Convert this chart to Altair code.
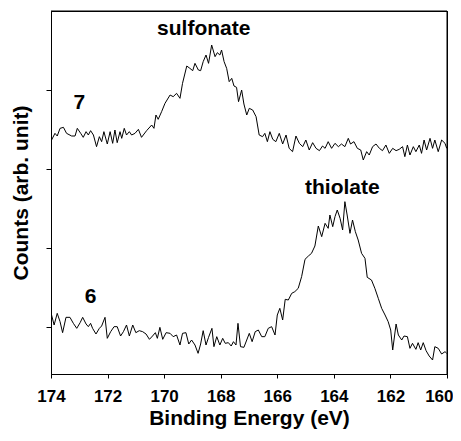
import altair as alt
import pandas as pd

# Spectrum 7 (sulfonate), binding energy (eV) and counts (arb. unit)
e7 = [173.98, 173.86, 173.78, 173.68, 173.56, 173.45, 173.27, 173.15, 173.07, 172.95,
      172.86, 172.76, 172.68, 172.60, 172.50, 172.39, 172.29, 172.21, 172.13, 172.01,
      171.91, 171.82, 171.74, 171.66, 171.56, 171.50, 171.41, 171.33, 171.23, 171.15,
      171.03, 170.91, 170.80, 170.62, 170.44, 170.36, 170.29, 170.21, 170.09, 169.97,
      169.79, 169.68, 169.56, 169.44, 169.35, 169.20, 169.09, 168.99, 168.91, 168.79,
      168.71, 168.62, 168.52, 168.43, 168.32, 168.20, 168.12, 168.03, 167.97, 167.88,
      167.79, 167.70, 167.61, 167.53, 167.44, 167.37, 167.26, 167.18, 167.08, 166.99,
      166.87, 166.75, 166.64, 166.52, 166.44, 166.35, 166.26, 166.16, 166.05, 165.93,
      165.81, 165.69, 165.58, 165.46, 165.34, 165.22, 165.10, 164.99, 164.87, 164.75,
      164.63, 164.51, 164.40, 164.31, 164.20, 164.08, 163.96, 163.84, 163.73, 163.61,
      163.49, 163.41, 163.29, 163.17, 163.05, 162.96, 162.84, 162.75, 162.63, 162.51,
      162.39, 162.28, 162.16, 162.04, 161.92, 161.80, 161.69, 161.57, 161.49, 161.40,
      161.31, 161.19, 161.10, 160.98, 160.90, 160.81, 160.72, 160.60, 160.51, 160.43,
      160.31, 160.19, 160.07, 160.01]
c7 = [702, 722, 714, 737, 740, 722, 714, 714, 737, 722,
      710, 727, 717, 730, 717, 682, 712, 697, 727, 690,
      727, 692, 732, 694, 727, 707, 737, 717, 727, 717,
      722, 734, 710, 730, 747, 737, 777, 764, 787, 812,
      837, 832, 842, 827, 872, 924, 917, 910, 932, 912,
      910, 937, 957, 932, 987, 952, 964, 957, 972, 937,
      917, 877, 887, 864, 860, 817, 852, 810, 777, 797,
      792, 772, 717, 712, 722, 697, 727, 704, 697, 722,
      690, 717, 677, 667, 714, 692, 682, 702, 672, 694,
      677, 670, 684, 677, 697, 677, 692, 682, 690, 682,
      707, 690, 697, 677, 672, 642, 667, 657, 682, 690,
      677, 670, 687, 662, 677, 670, 674, 682, 652, 687,
      657, 682, 667, 687, 662, 702, 672, 707, 677, 702,
      667, 702, 692, 677]

# Spectrum 6 (thiolate)
e6 = [173.98, 173.89, 173.78, 173.68, 173.59, 173.47, 173.33, 173.21, 173.09, 172.97,
      172.88, 172.76, 172.68, 172.60, 172.53, 172.41, 172.29, 172.21, 172.09, 172.01,
      171.89, 171.77, 171.66, 171.54, 171.44, 171.33, 171.23, 171.11, 171.00, 170.88,
      170.76, 170.64, 170.52, 170.41, 170.31, 170.24, 170.15, 170.05, 169.93, 169.79,
      169.68, 169.56, 169.44, 169.35, 169.23, 169.13, 169.03, 168.91, 168.80, 168.71,
      168.62, 168.52, 168.43, 168.31, 168.24, 168.14, 168.03, 167.93, 167.84, 167.73,
      167.63, 167.55, 167.46, 167.39, 167.30, 167.18, 167.08, 166.99, 166.89, 166.78,
      166.67, 166.55, 166.44, 166.32, 166.20, 166.08, 166.00, 165.91, 165.81, 165.72,
      165.61, 165.49, 165.38, 165.26, 165.14, 165.02, 164.90, 164.79, 164.67, 164.55,
      164.43, 164.31, 164.20, 164.14, 164.04, 163.96, 163.88, 163.78, 163.69, 163.61,
      163.53, 163.43, 163.34, 163.24, 163.14, 163.02, 162.90, 162.82, 162.67, 162.55,
      162.43, 162.31, 162.19, 162.08, 161.99, 161.92, 161.80, 161.72, 161.60, 161.52,
      161.40, 161.31, 161.22, 161.10, 161.02, 160.93, 160.84, 160.74, 160.63, 160.51,
      160.43, 160.31, 160.19, 160.07, 160.01]
c6 = [177, 147, 182, 157, 124, 170, 170, 152, 137, 154,
      170, 150, 142, 152, 137, 120, 137, 144, 170, 107,
      127, 142, 142, 114, 127, 147, 114, 147, 124, 130,
      127, 120, 104, 114, 124, 107, 140, 104, 124, 122,
      112, 117, 87, 122, 124, 90, 102, 87, 62, 90,
      130, 87, 110, 137, 82, 112, 87, 107, 92, 94,
      84, 97, 87, 152, 82, 80, 102, 122, 97, 127,
      132, 112, 112, 137, 142, 117, 177, 197, 162, 224,
      222, 242, 247, 257, 292, 344, 354, 362, 384, 444,
      412, 452, 437, 477, 442, 472, 492, 467, 432, 517,
      477, 422, 462, 427, 402, 362, 347, 290, 282, 257,
      227, 197, 177, 157, 132, 72, 150, 117, 102, 114,
      112, 77, 92, 74, 94, 72, 94, 70, 54, 42,
      82, 77, 60, 67, 62]

label_text = ["sulfonate", "7", "thiolate", "6"]
label_e = [168.6, 173.0, 163.7, 172.6]
label_c = [1035, 813, 558, 232]

x_ticks = [174, 172, 170, 168, 166, 164, 162, 160]
y_ticks = [141, 378, 615, 852]

X_MIN, X_MAX = 160, 174
Y_MIN, Y_MAX = 0, 1089

n7 = min(len(e7), len(c7))
n6 = min(len(e6), len(c6))
spec = pd.DataFrame({
    "energy": e7[:n7] + e6[:n6],
    "counts": c7[:n7] + c6[:n6],
    "series": ["7"] * n7 + ["6"] * n6,
})
labels = pd.DataFrame({"energy": label_e, "counts": label_c, "text": label_text})
frame = pd.DataFrame({"e0": [X_MAX, X_MIN], "e1": [X_MIN, X_MIN],
                      "c0": [Y_MAX, Y_MIN], "c1": [Y_MAX, Y_MAX]})

FONT = "Liberation Sans"

x_scale = alt.Scale(domain=[X_MIN, X_MAX], reverse=True, nice=False, zero=False)
y_scale = alt.Scale(domain=[Y_MIN, Y_MAX], nice=False, zero=True)

lines = alt.Chart(spec).mark_line(color="black", strokeWidth=1).encode(
    x=alt.X("energy:Q", scale=x_scale,
            axis=alt.Axis(title="Binding Energy (eV)", values=x_ticks, format="d",
                          grid=False, tickSize=4, labelPadding=10, labelFlush=False,
                          labelAlign={"expr": f"datum.value == {X_MIN} ? 'right' : 'center'"},
                          labelOffset={"expr": f"datum.value == {X_MIN} ? 6 : 0"},
                          labelFontSize=17, labelFont=FONT, labelFontWeight="bold",
                          labelColor="black", titleFontSize=21, titleFont=FONT,
                          titleFontWeight="bold", titleColor="black", titlePadding=3,
                          domainColor="black", tickColor="black")),
    y=alt.Y("counts:Q", scale=y_scale,
            axis=alt.Axis(title="Counts (arb. unit)", values=y_ticks, labels=False,
                          grid=False, tickSize=5, titleFontSize=21, titleFont=FONT,
                          titleFontWeight="bold", titleColor="black", titlePadding=14,
                          domainColor="black", tickColor="black")),
    detail="series:N",
    order="energy:Q",
)

text = alt.Chart(labels).mark_text(font=FONT, fontWeight="bold", fontSize=21,
                                   color="black").encode(
    x=alt.X("energy:Q", scale=x_scale, axis=None),
    y=alt.Y("counts:Q", scale=y_scale, axis=None),
    text="text:N",
)

# frame: top and right borders, drawn as plain axis domains and rules
borders = alt.Chart(frame).mark_rule(color="black", strokeWidth=1).encode(
    x=alt.X("e0:Q", scale=x_scale,
            axis=alt.Axis(orient="top", labels=False, ticks=False, grid=False,
                          title=None, domainColor="black", domainWidth=1)),
    x2="e1:Q",
    y=alt.Y("c0:Q", scale=y_scale,
            axis=alt.Axis(orient="right", labels=False, ticks=False, grid=False,
                          title=None, domainColor="black", domainWidth=1)),
    y2="c1:Q",
)

chart = (lines + text + borders).resolve_axis(x="independent", y="independent").properties(
    width=396, height=363,
    background="white",
    autosize=alt.AutoSizeParams(type="none"),
    padding={"left": 43, "top": 3, "right": 6, "bottom": 59},
).configure_view(stroke="black", strokeWidth=1)

chart.save("out.html", embed_options={"renderer": "svg", "actions": False})
